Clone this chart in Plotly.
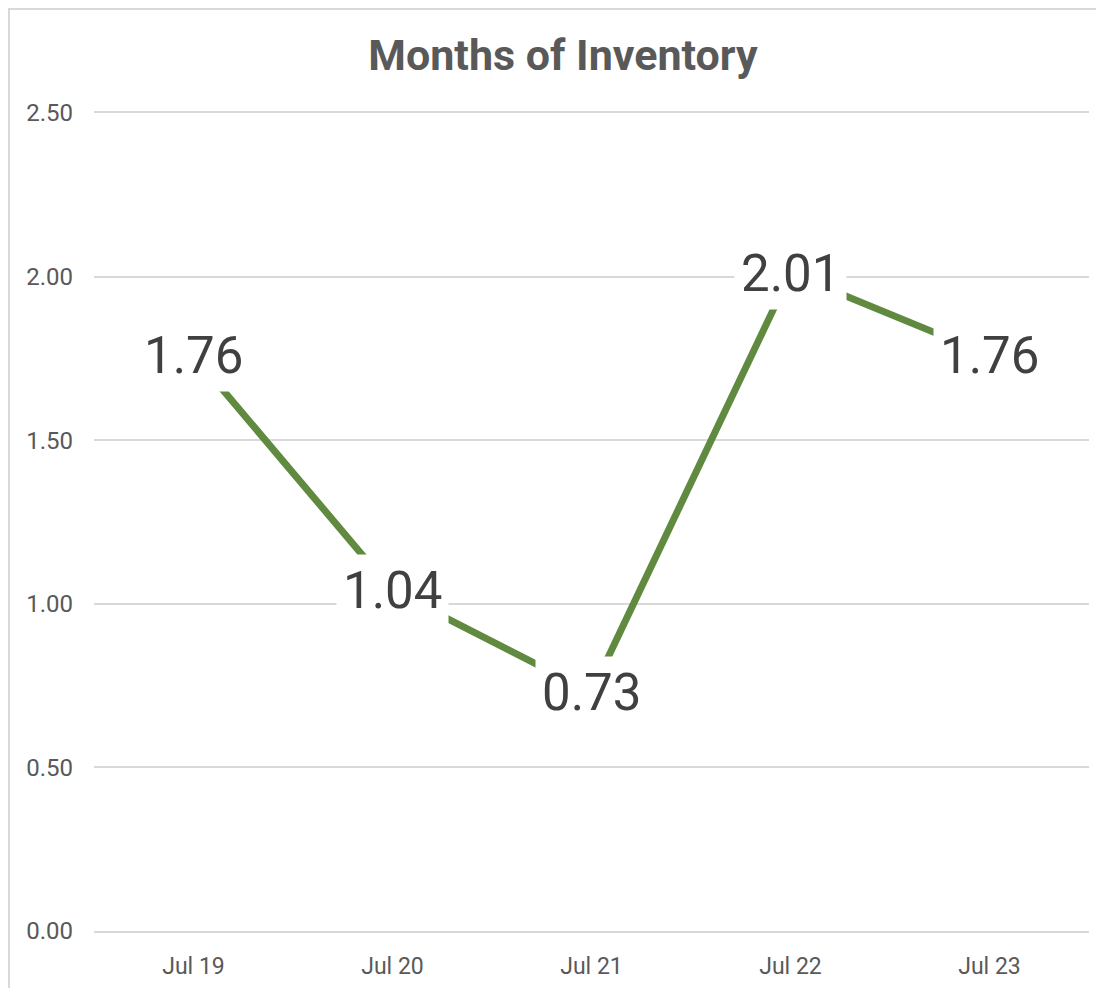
import plotly.graph_objects as go

categories = ["Jul 19", "Jul 20", "Jul 21", "Jul 22", "Jul 23"]
months_of_inventory = [1.76, 1.04, 0.73, 2.01, 1.76]
y_ticks = [0, 0.5, 1.0, 1.5, 2.0, 2.5]
y_tick_labels = ["0.00", "0.50", "1.00", "1.50", "2.00", "2.50"]

W, H = 1104, 988
OFF = 8  # page body margin
L, R, T, B = 94 - OFF, 23, 113 - OFF, 65
pw, ph = W - L - R, H - T - B

LINE_COLOR = "#5F8A3F"
GRID = "#D9D9D9"
TXT = "#595959"
FONT = "Roboto"

fig = go.Figure()
fig.add_trace(go.Scatter(
    x=categories, y=months_of_inventory, mode="lines",
    line=dict(color=LINE_COLOR, width=7), hoverinfo="skip", showlegend=False,
))

for c, v in zip(categories, months_of_inventory):
    fig.add_annotation(
        x=c, y=v, xref="x", yref="y", text=f"{v:.2f}", showarrow=False,
        xanchor="center", yanchor="middle",
        font=dict(family=FONT, size=51, color="#404040"),
        bgcolor="white", borderpad=6,
    )

def px_x(p):
    return (p - OFF - L) / pw

def px_y(p):
    return (H - B - (p - OFF)) / ph

fig.add_shape(type="rect", xref="paper", yref="paper",
              x0=px_x(9), x1=px_x(1140), y0=px_y(1020), y1=px_y(9),
              line=dict(color=GRID, width=2), fillcolor="rgba(0,0,0,0)", layer="below")

fig.update_layout(
    width=W, height=H,
    margin=dict(l=L, r=R, t=T, b=B),
    paper_bgcolor="white", plot_bgcolor="white",
    title=dict(text="<b>Months of Inventory</b>", x=(563 - OFF) / W, xref="container",
               xanchor="center", y=1 - (55 - OFF) / H, yref="container", yanchor="middle",
               font=dict(family=FONT, size=43, color=TXT)),
    font=dict(family=FONT, color=TXT),
    xaxis=dict(type="category", range=[-0.5, 4.5], showgrid=False, zeroline=False,
               showline=True, mirror=True, linecolor=GRID, linewidth=2,
               ticks="", tickfont=dict(size=23, color=TXT),
               ticklabelstandoff=13, fixedrange=True),
    yaxis=dict(range=[0, 2.5], tickvals=y_ticks, ticktext=y_tick_labels,
               showgrid=True, gridcolor=GRID, gridwidth=2, zeroline=False,
               showline=False, ticks="", tickfont=dict(size=24, color=TXT),
               ticklabelstandoff=20, fixedrange=True),
)

fig.write_html("out.html")
